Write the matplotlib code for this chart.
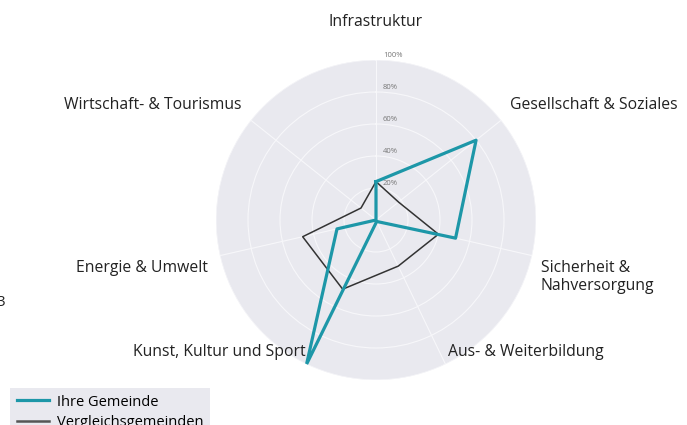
import numpy as np
import matplotlib
matplotlib.use("Agg")
import matplotlib.pyplot as plt

plt.rcParams["font.family"] = ["Open Sans", "DejaVu Sans"]

# chart data, clockwise from the top
categories = ["Infrastruktur", "Gesellschaft & Soziales", "Sicherheit &\nNahversorgung",
              "Aus- & Weiterbildung", "Kunst, Kultur und Sport", "Energie & Umwelt",
              "Wirtschaft- & Tourismus"]
ihre_gemeinde = [24, 80, 51, 1, 100, 25, 0]
vergleichsgemeinden = [24, 18, 40, 32, 48, 47, 12]
r_ticks = [20, 40, 60, 80, 100]
r_ticklabels = ["20%", "40%", "60%", "80%", "100%"]

W, H = 687, 425
fig = plt.figure(figsize=(W / 100, H / 100), dpi=100)

# polar axes: centre about (376, 220) px, radius 160 px
ax = fig.add_axes([216 / W, 1 - 380 / H, 320 / W, 320 / H], projection="polar")
ax.set_theta_offset(np.pi / 2)
ax.set_theta_direction(-1)
ax.set_facecolor("#E9E9EF")
ax.spines["polar"].set_visible(False)

n = len(categories)
angles = [2 * np.pi * i / n for i in range(n)]
closed = angles + angles[:1]

ax.set_xticks(angles)
ax.set_xticklabels([])
ax.set_yticks(r_ticks)
ax.set_yticklabels([])
ax.set_ylim(0, 100)
ax.grid(True, color="#F7F7FA", linewidth=0.8)
ax.tick_params(length=0)

ax.plot(closed, vergleichsgemeinden + vergleichsgemeinden[:1], color="#333333",
        linewidth=1.1, label="Vergleichsgemeinden", zorder=3)
ax.plot(closed, ihre_gemeinde + ihre_gemeinde[:1], color="#1D97A8",
        linewidth=2.3, label="Ihre Gemeinde", zorder=4)

# radial labels just right of the top spoke
for r, lab in zip(r_ticks, r_ticklabels):
    ax.annotate(lab, xy=(0, r), xytext=(5, 3), textcoords="offset points",
                ha="left", va="center", fontsize=5.5, color="#777777")

# category labels (pixel positions, top-left origin)
label_pos = [(376, 22, "center"), (510, 105, "left"), (541, 277, "left"),
             (448, 352, "left"), (306, 352, "right"), (208, 268, "right"),
             (242, 105, "right")]
for lab, (x, y, ha) in zip(categories, label_pos):
    fig.text(x / W, 1 - y / H, lab, ha=ha, va="center", fontsize=11.3,
             color="#222222", linespacing=1.1)

# clipped text at the left edge
fig.text(-4 / W, 1 - 303 / H, "3", ha="left", va="center", fontsize=11, color="#222222")

handles, labels = ax.get_legend_handles_labels()
handles = [handles[1], plt.Line2D([], [], color="#555555", linewidth=1.8)]
leg = fig.legend(handles, ["Ihre Gemeinde", "Vergleichsgemeinden"], loc="upper left",
                 bbox_to_anchor=(10 / W, 1 - 388 / H), borderaxespad=0,
                 frameon=True, fancybox=False, facecolor="#E9E9EF",
                 edgecolor="none", framealpha=1, fontsize=10.5,
                 handlelength=2.2, labelspacing=0.35, borderpad=0.45,
                 handletextpad=0.6)

fig.savefig("out.png", dpi=100)
